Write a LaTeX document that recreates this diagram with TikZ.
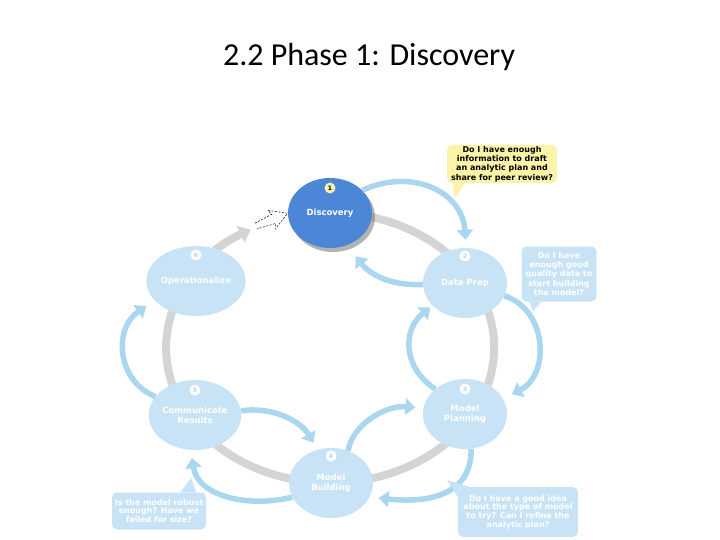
\documentclass[tikz,border=0pt]{standalone}
\usepackage{fontspec}
\setmainfont{Carlito}
\newfontfamily\lab{DejaVu Sans}
\usetikzlibrary{arrows.meta,shapes.geometric,shadows}
\definecolor{disc}{HTML}{4B87D6}
\definecolor{fade}{HTML}{C8E3F6}
\definecolor{arr}{HTML}{AAD7F0}
\definecolor{ringc}{HTML}{D4D4D4}
\definecolor{ylw}{HTML}{FBF4A8}
\definecolor{badgey}{HTML}{F4F0B0}
\begin{document}
\begin{tikzpicture}[x=1pt,y=-1pt,
  phase/.style={ellipse, minimum width=84pt, minimum height=70pt, inner sep=0pt, align=center, text=white, font=\lab\bfseries\fontsize{8.5}{10}\selectfont},
  faded/.style={phase, fill=fade},
  badge/.style={circle, inner sep=0pt, minimum size=11pt, font=\lab\bfseries\fontsize{6}{6}\selectfont},
  flow/.style={draw=arr, line width=5.5pt, -{Triangle[width=16pt,length=10pt]}},
  ring/.style={draw=ringc, line width=8pt},
  note/.style={rounded corners=5pt, inner sep=0pt, align=center, font=\lab\bfseries\fontsize{8}{9.2}\selectfont},
]
\useasboundingbox (0,0) rectangle (720,540);
\node[font=\fontsize{32}{38}\selectfont] (title) at (369,57) {2.2 Phase 1: Discovery};

% ring (from Discovery clockwise round to the arrowhead before Discovery)
\draw[ring, -{Triangle[width=18pt,length=11pt]}] (347.3,213.5) arc[start angle=84, end angle=-241, x radius=164pt, y radius=135pt];

% dashed hollow arrow
\begin{scope}[shift={(256,226)}, rotate=22]
\draw[dash pattern=on 2pt off 1.5pt, line width=0.5pt] (0,-3) -- (19,-5) -- (17,-10) -- (34,0) -- (17,10) -- (19,5) -- (0,3);
\end{scope}

% phases
\node[phase, fill=disc, drop shadow={shadow xshift=3pt, shadow yshift=-4pt, fill=black!50, opacity=0.6}] (disc) at (330,213) {Discovery};
\node[badge, fill=badgey, text=black] (b1) at (330,188) {1};
\node[faded] (prep) at (465,283) {Data Prep};
\node[badge, fill=white, text=arr] (b2) at (465,256) {2};
\node[faded] (plan) at (465,414) {Model\\Planning};
\node[badge, fill=white, text=arr] (b3) at (465,389) {3};
\node[faded] (build) at (331,483) {Model\\Building};
\node[badge, fill=white, text=arr] (b4) at (331,456) {4};
\node[faded] (comm) at (195,415) {Communicate\\Results};
\node[badge, fill=white, text=arr] (b5) at (195,390) {5};
\node[faded] (oper) at (196,281) {Operationalize};
\node[badge, fill=white, text=arr] (b6) at (196,255) {6};

% flows
\draw[flow, shorten >=8pt] (disc.35) .. controls (410,168) and (462,190) .. (prep.88);
\draw[flow, shorten >=14pt] (prep.182) .. controls (395,286) and (372,277) .. (disc.-62);
\draw[flow, shorten >=10pt] (prep.-18) .. controls (548,310) and (550,375) .. (plan.22);
\draw[flow, shorten >=3pt] (plan.140) .. controls (403,368) and (402,330) .. (prep.215);
\draw[flow, shorten >=8pt] (build.62) .. controls (352,425) and (385,405) .. (plan.172);
\draw[flow, shorten >=9pt] (plan.-80) .. controls (472,497) and (425,503) .. (build.-20);
\draw[flow, shorten >=8pt] (comm.5) .. controls (270,406) and (300,420) .. (build.112);
\draw[flow, shorten >=8pt] (build.200) .. controls (250,508) and (198,497) .. (comm.-97);
\draw[flow, shorten >=10pt] (comm.155) .. controls (118,382) and (112,330) .. (oper.205);

% callouts
\node[note, fill=ylw, text=black, minimum width=110pt, minimum height=38pt] (q1) at (502,164) {Do I have enough\\information to draft\\an analytic plan and\\share for peer review?};
\coordinate (t1) at (455,198);
\fill[ylw] ([xshift=6pt]q1.south west) -- ([xshift=18pt]q1.south west) -- (t1) -- cycle;

\node[note, fill=fade, text=white, minimum width=75pt, minimum height=55pt] (q2) at (559,274) {Do I have\\enough good\\quality data to\\start building\\the model?};
\coordinate (t2) at (533,311);
\fill[fade] ([xshift=8pt]q2.south west) -- ([xshift=20pt]q2.south west) -- (t2) -- cycle;

\node[note, fill=fade, text=white, minimum width=120pt, minimum height=50pt, font=\lab\bfseries\fontsize{8}{8.6}\selectfont] (q3) at (518,512) {Do I have a good idea\\about the type of model\\to try? Can I refine the\\analytic plan?};
\coordinate (t3) at (447,480);
\fill[fade] ([yshift=-10pt]q3.north west) -- ([xshift=12pt]q3.north west) -- (t3) -- cycle;

\node[note, fill=fade, text=white, minimum width=94pt, minimum height=37pt, font=\lab\bfseries\fontsize{8}{8.6}\selectfont] (q4) at (159,511) {Is the model robust\\enough? Have we\\failed for size?};
\coordinate (t4) at (191,478);
\fill[fade] ([xshift=-26pt]q4.north east) -- ([xshift=-10pt]q4.north east) -- (t4) -- cycle;
\end{tikzpicture}
\end{document}
